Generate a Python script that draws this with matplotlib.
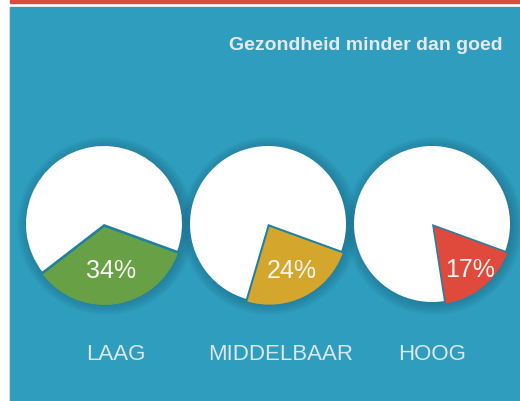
import numpy as np
import matplotlib.pyplot as plt
import matplotlib.patches as mpatches

# Data
groups = ['LAAG', 'MIDDELBAAR', 'HOOG']
shares = [34, 24, 17]
slice_colors = ['#68a145', '#d4a72c', '#df4a3d']
title = 'Gezondheid minder dan goed'

plt.rcParams['font.family'] = ['Liberation Sans', 'DejaVu Sans']

W, H = 520, 401
fig = plt.figure(figsize=(W / 100, H / 100), dpi=100)
fig.patch.set_facecolor('white')
ax = fig.add_axes([0, 0, 1, 1])

# background: blue panel, red rule on top
ax.add_patch(mpatches.Rectangle((10, 0), W - 10, H - 6.5, color='#2f9dbd', zorder=0))
ax.add_patch(mpatches.Rectangle((10, H - 2.5), W - 10, 2.5, color='#db4b3f', zorder=0))
ax.plot([9, 9], [0, H - 6.5], color='#cfd8dc', lw=0.8, zorder=0)

centers_x = [104, 268, 432]
cy = H - 224
radius = 78
end_angle = 340

for cx, p, col, name, lx in zip(centers_x, shares, slice_colors, groups, [116, 281, 432]):
    # soft dark glow around each pie
    for k in range(12):
        ax.add_patch(mpatches.Circle((cx + 2, cy - 2), radius + k, color='#15607c',
                                     alpha=0.045, lw=0, zorder=0.5))
    mid = np.deg2rad(end_angle - p * 1.8)
    pctd = 44 / (radius * abs(np.sin(mid)))
    wedges, texts, autotexts = ax.pie(
        [p, 100 - p], colors=[col, 'white'], startangle=end_angle - p * 3.6,
        center=(cx, cy), radius=radius, explode=[3, 0],
        autopct=lambda v: f'{v:.0f}%' if v < 50 else '',
        pctdistance=pctd, wedgeprops=dict(linewidth=0),
        textprops=dict(color='#f6f6f2', fontsize=18))
    for w in wedges:
        w.set_zorder(1)
    ax.text(lx, H - 355, name, ha='center', va='center', fontsize=16, color='#dde7eb')

ax.text(503, H - 46, title, ha='right', va='center', fontsize=14,
        fontweight='bold', color='#e2eaed')

ax.set_xlim(0, W)
ax.set_ylim(0, H)
ax.set_aspect('auto')
ax.axis('off')

fig.savefig('out.png', dpi=100, facecolor=fig.get_facecolor())
